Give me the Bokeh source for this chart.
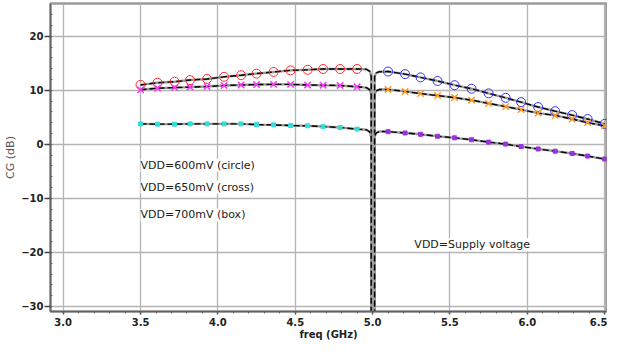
from bokeh.plotting import figure
from bokeh.models import Label, FixedTicker, Range1d, PrintfTickFormatter
from bokeh.embed import file_html
from bokeh.resources import INLINE
import numpy as np

# ---- data ----
freq_low = [3.50, 3.61, 3.72, 3.82, 3.93, 4.04, 4.15, 4.25, 4.36, 4.47, 4.58, 4.68, 4.79, 4.90]
freq_high = [5.10, 5.21, 5.31, 5.42, 5.53, 5.64, 5.75, 5.86, 5.96, 6.07, 6.18, 6.29, 6.39, 6.50]

cg_600_low = [11.0, 11.4, 11.6, 11.9, 12.1, 12.5, 12.8, 13.1, 13.4, 13.7, 13.8, 13.95, 13.95, 13.95]
cg_650_low = [10.1, 10.4, 10.5, 10.6, 10.7, 10.9, 11.0, 11.07, 11.1, 11.1, 11.0, 10.95, 10.9, 10.65]
cg_700_low = [3.79, 3.74, 3.74, 3.79, 3.79, 3.79, 3.79, 3.66, 3.61, 3.48, 3.43, 3.30, 3.12, 2.83]

cg_600_high = [13.48, 13.0, 12.4, 11.73, 10.96, 10.29, 9.44, 8.61, 7.82, 6.91, 6.14, 5.42, 4.69, 3.79]
cg_650_high = [10.16, 9.8, 9.39, 9.03, 8.66, 8.18, 7.58, 6.99, 6.44, 5.78, 5.36, 4.69, 4.03, 3.43]
cg_700_high = [2.35, 2.11, 1.86, 1.5, 1.21, 0.85, 0.42, 0.05, -0.42, -0.85, -1.26, -1.68, -2.17, -2.71]

# curve ends: drop to the supply switch near 5 GHz
freq_low_tail = [4.96, 4.982, 4.991, 4.991]
cg_600_low_tail = [13.9, 13.5, 12.6, -40]
cg_650_low_tail = [10.5, 10.1, 9.2, -40]
cg_700_low_tail = [2.7, 2.3, 1.4, -40]

freq_high_head = [5.013, 5.013, 5.022, 5.045]
cg_600_high_head = [-40, 12.5, 13.2, 13.45]
cg_650_high_head = [-40, 9.2, 9.9, 10.15]
cg_700_high_head = [-40, 1.4, 2.1, 2.4]

x_ticks = [3.0, 3.5, 4.0, 4.5, 5.0, 5.5, 6.0, 6.5]
y_ticks = [-30, -20, -10, 0, 10, 20]
y_tick_labels = ["\u221230", "\u221220", "\u221210", "0", "10", "20"]

notes = ["VDD=600mV (circle)", "VDD=650mV (cross)", "VDD=700mV (box)"]
note_supply = "VDD=Supply voltage"

# ---- figure ----
p = figure(width=607, height=342, output_backend="svg", toolbar_location=None,
           x_range=Range1d(2.918, 6.512), y_range=Range1d(-30.93, 26.07),
           min_border_left=50, min_border_right=1, min_border_top=3, min_border_bottom=28)

p.background_fill_color = "white"
p.border_fill_color = "white"
p.outline_line_color = "#9a9a9a"
p.outline_line_width = 2.5

for g in (p.xgrid, p.ygrid):
    g.grid_line_color = "#b4b4b4"
    g.grid_line_width = 1.3

p.xaxis.ticker = FixedTicker(ticks=x_ticks,
                             minor_ticks=list(np.round(np.arange(2.9, 6.56, 0.1), 2)))
p.xaxis.formatter = PrintfTickFormatter(format="%.1f")
p.yaxis.ticker = FixedTicker(ticks=y_ticks,
                             minor_ticks=list(range(-32, 26, 2)))
p.yaxis.major_label_overrides = {v: s for v, s in zip(y_ticks, y_tick_labels)}

for ax in (p.xaxis, p.yaxis):
    ax.axis_line_color = "#666666"
    ax.axis_line_width = 1.5
    ax.major_tick_line_color = "#444444"
    ax.major_tick_line_width = 1.5
    ax.minor_tick_line_color = "#666666"
    ax.major_label_text_font = "DejaVu Sans"
    ax.major_label_text_font_style = "bold"
    ax.major_label_text_font_size = "10px"
    ax.major_label_text_color = "#222222"
    ax.axis_label_text_color = "#222222"

p.xaxis.major_tick_out = 3
p.xaxis.major_tick_in = 0
p.xaxis.minor_tick_out = 2
p.xaxis.minor_tick_in = 0
p.xaxis.major_label_standoff = 3
p.xaxis.axis_label = "freq (GHz)"
p.xaxis.axis_label_text_font = "DejaVu Sans"
p.xaxis.axis_label_text_font_style = "bold"
p.xaxis.axis_label_text_font_size = "10px"
p.xaxis.axis_label_standoff = 0

p.yaxis.major_tick_out = 6
p.yaxis.major_tick_in = 0
p.yaxis.minor_tick_out = 0
p.yaxis.minor_tick_in = 2
p.yaxis.major_label_standoff = 1
p.yaxis.axis_label = "CG (dB)"
p.yaxis.axis_label_text_font = "DejaVu Sans"
p.yaxis.axis_label_text_font_style = "normal"
p.yaxis.axis_label_text_font_size = "11px"
p.yaxis.axis_label_text_color = "#555555"
p.yaxis.axis_label_standoff = 1

# ---- curves ----
curves = [
    (freq_low + freq_low_tail, cg_600_low + cg_600_low_tail),
    (freq_low + freq_low_tail, cg_650_low + cg_650_low_tail),
    (freq_low + freq_low_tail, cg_700_low + cg_700_low_tail),
    (freq_high_head + freq_high, cg_600_high_head + cg_600_high),
    (freq_high_head + freq_high, cg_650_high_head + cg_650_high),
    (freq_high_head + freq_high, cg_700_high_head + cg_700_high),
]
for xs, ys in curves:
    p.line(xs, ys, line_color="#9a9a9a", line_width=2.4)
    p.line(xs, ys, line_color="black", line_width=1.4, line_dash="6 3")

# ---- markers ----
p.scatter(freq_low, cg_600_low, marker="circle", size=9, fill_color=None,
          line_color="#ff2a2a", line_width=1)
p.scatter(freq_low, cg_650_low, marker="x", size=9, line_color="#ff33ff", line_width=1.5)
p.scatter(freq_low, cg_700_low, marker="square", size=4, fill_color="#33dddd",
          line_color="#33dddd")
p.scatter(freq_high, cg_600_high, marker="circle", size=9, fill_color=None,
          line_color="#3333ff", line_width=1)
p.scatter(freq_high, cg_650_high, marker="x", size=9, line_color="#ff9922", line_width=1.5)
p.scatter(freq_high, cg_700_high, marker="square", size=4, fill_color="#9933dd",
          line_color="#9933dd")

# ---- annotations ----
note_y = [-3.85, -7.89, -13.05]
for t, yv in zip(notes, note_y):
    p.add_layout(Label(x=3.5, y=yv, text=t, text_baseline="middle",
                       text_font="DejaVu Sans", text_font_size="11px",
                       text_color="#1a1a1a", background_fill_color="white"))
p.add_layout(Label(x=5.27, y=-18.6, text=note_supply, text_baseline="middle",
                   text_font="DejaVu Sans", text_font_size="11px",
                   text_color="#1a1a1a", background_fill_color="white"))

open("out.html", "w").write(file_html(p, INLINE))
